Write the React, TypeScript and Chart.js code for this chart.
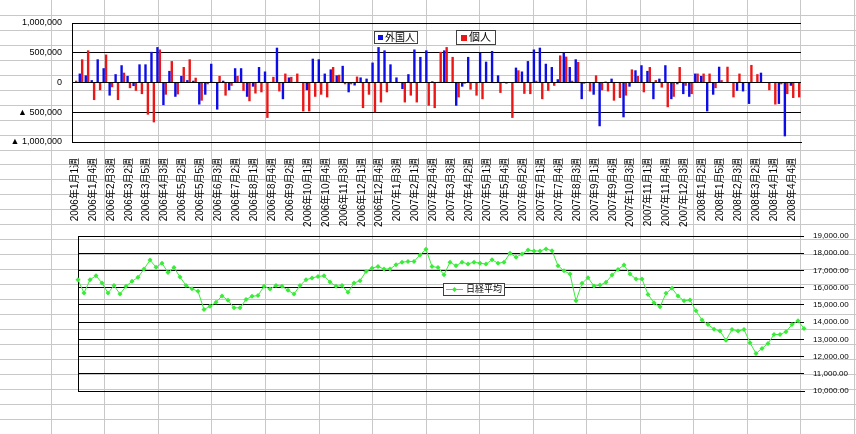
import React, { useEffect, useRef } from 'react';
import { Chart, registerables } from 'chart.js';

Chart.register(...registerables);

const FONT = "'Liberation Sans', 'Noto Sans CJK JP', sans-serif";
Chart.defaults.font.family = FONT;

// [year, month, number of weeks in that month]
const MONTH_WEEKS: [number, number, number][] = [
  [2006, 1, 4], [2006, 2, 4], [2006, 3, 5], [2006, 4, 4], [2006, 5, 5], [2006, 6, 4],
  [2006, 7, 4], [2006, 8, 5], [2006, 9, 4], [2006, 10, 4], [2006, 11, 5], [2006, 12, 4],
  [2007, 1, 5], [2007, 2, 4], [2007, 3, 4], [2007, 4, 4], [2007, 5, 5], [2007, 6, 4],
  [2007, 7, 4], [2007, 8, 5], [2007, 9, 4], [2007, 10, 5], [2007, 11, 4], [2007, 12, 4],
  [2008, 1, 5], [2008, 2, 4], [2008, 3, 4], [2008, 4, 4], [2008, 5, 1],
];
const WEEK_LABELS: string[] = [];
MONTH_WEEKS.forEach(([y, m, n]) => {
  for (let w = 1; w <= n; w++) WEEK_LABELS.push(`${y}年${m}月${w}週`);
});

// 外国人 (weekly net)
const FOREIGN = [
  0, 150000, 120000, 40000, 390000, 240000, -220000, 140000, 290000, 110000,
  -60000, 305000, 305000, 515000, 595000, -380000, 195000, -240000, 110000, 40000,
  30000, -370000, -205000, 315000, -455000, 30000, -130000, 240000, 240000, -240000,
  -70000, 260000, 185000, 10000, 585000, -280000, 85000, 10000, 0, -130000,
  400000, 390000, 150000, 220000, 120000, 280000, -165000, -50000, 85000, 65000,
  335000, 595000, 540000, 305000, 85000, -110000, 140000, 555000, 430000, 540000,
  20000, 10000, 540000, 0, -390000, -70000, 430000, 0, 500000, 350000,
  530000, 120000, 10000, 0, 250000, 185000, 360000, 555000, 585000, 315000,
  260000, 55000, 500000, 260000, 390000, -280000, 0, -205000, -735000, 15000,
  65000, 0, -585000, -70000, 205000, 290000, 195000, -280000, 65000, 290000,
  -280000, -30000, -195000, -240000, 150000, 110000, -485000, -205000, 265000, 0,
  0, -140000, -150000, -360000, 0, 165000, 0, 0, -360000, -905000,
  -55000, 0,
];

// 個人 (weekly net)
const INDIVIDUAL = [
  30000, 390000, 540000, -295000, -130000, 470000, -80000, -295000, 165000, -95000,
  -140000, -195000, -540000, -670000, 555000, -205000, 360000, -200000, 260000, 390000,
  80000, -305000, -30000, 10000, 110000, -220000, -55000, 110000, -140000, -315000,
  -185000, -165000, -595000, 95000, -150000, 150000, 95000, 150000, -485000, -485000,
  -240000, -205000, -250000, 260000, 130000, -30000, -30000, 100000, -430000, -205000,
  -500000, -335000, -165000, 10000, 10000, -335000, -220000, -335000, 0, -390000,
  -430000, 515000, 595000, 430000, -250000, -20000, -120000, -220000, -280000, 10000,
  -10000, -175000, -20000, -595000, 205000, -190000, -195000, 30000, -280000, -140000,
  -55000, 455000, 435000, 30000, 345000, -20000, -150000, 120000, -130000, -150000,
  -305000, -260000, -220000, 220000, 110000, -165000, 260000, 40000, -85000, -415000,
  -240000, 260000, -55000, -195000, 150000, 150000, 150000, -95000, 40000, 265000,
  -250000, 150000, 0, 295000, 140000, 0, -130000, -370000, -30000, -195000,
  -260000, -250000,
];

// 日経平均 (weekly close)
const NIKKEI = [
  16460, 15690, 16460, 16690, 16270, 15690, 16120, 15630, 16080, 16370,
  16600, 17080, 17600, 17190, 17420, 16880, 17170, 16620, 16130, 15940,
  15790, 14730, 14920, 15150, 15520, 15270, 14830, 14830, 15310, 15500,
  15540, 16080, 15920, 16130, 16080, 15850, 15630, 16120, 16460, 16560,
  16650, 16690, 16330, 16080, 16120, 15730, 16270, 16400, 16940, 17130,
  17230, 17080, 17080, 17330, 17480, 17520, 17520, 17900, 18230, 17230,
  17170, 16750, 17480, 17270, 17480, 17380, 17480, 17420, 17370, 17620,
  17420, 17480, 18000, 17770, 17960, 18190, 18130, 18130, 18250, 18150,
  17270, 16980, 16790, 15240, 16250, 16580, 16090, 16150, 16310, 16730,
  17060, 17310, 16790, 16500, 16500, 15610, 15120, 14890, 15670, 15960,
  15510, 15240, 15280, 14660, 14120, 13860, 13590, 13480, 12950, 13570,
  13480, 13570, 12800, 12180, 12470, 12760, 13280, 13280, 13440, 13860,
  14080, 13630,
];

const BAR_MIN = -1000000;
const BAR_MAX = 1000000;
const BAR_STEP = 500000;
const NK_MIN = 10000;
const NK_MAX = 19000;
const NK_STEP = 1000;

const W = 856;
const H = 434;
const TOP_H = 230;
const BLUE = '#0c0ce8';
const RED = '#ec1616';
const GREEN = '#38ec38';

function drawSheet(c: HTMLCanvasElement) {
  const ctx = c.getContext('2d');
  if (!ctx) return;
  ctx.clearRect(0, 0, W, H);
  ctx.fillStyle = '#ffffff';
  ctx.fillRect(0, 0, W, H);
  ctx.strokeStyle = '#c8c8c8';
  ctx.lineWidth = 1;
  ctx.beginPath();
  for (let k = 0; k < 17; k++) {
    const x = Math.round(50.8 + 53.55 * k) + 0.5;
    if (x < W) {
      ctx.moveTo(x, 0);
      ctx.lineTo(x, H);
    }
  }
  for (let k = 1; k < 30; k++) {
    const y = Math.round(14.95 * k) + 0.5;
    if (y < H) {
      ctx.moveTo(0, y);
      ctx.lineTo(W, y);
    }
  }
  ctx.stroke();
}

const barLegendPlugin = {
  id: 'barLegendBoxes',
  afterDraw(chart: any) {
    const ctx = chart.ctx;
    const ds = chart.data.datasets;
    ctx.save();
    ctx.lineWidth = 1;
    ctx.strokeStyle = '#404040';
    ctx.textAlign = 'left';
    ctx.textBaseline = 'middle';
    // 外国人
    ctx.fillStyle = '#ffffff';
    ctx.fillRect(374.5, 31.5, 43, 12);
    ctx.strokeRect(374.5, 31.5, 43, 12);
    ctx.fillStyle = ds[0].backgroundColor;
    ctx.fillRect(378, 35, 5, 5);
    ctx.fillStyle = '#000';
    ctx.font = `10px ${FONT}`;
    ctx.fillText(ds[0].label, 385, 38);
    // 個人
    ctx.fillStyle = '#ffffff';
    ctx.fillRect(456.5, 30.5, 39, 14);
    ctx.strokeRect(456.5, 30.5, 39, 14);
    ctx.fillStyle = ds[1].backgroundColor;
    ctx.fillRect(461, 35, 6, 6);
    ctx.fillStyle = '#000';
    ctx.font = `11px ${FONT}`;
    ctx.fillText(ds[1].label, 469, 38);
    ctx.restore();
  },
};

const lineLegendPlugin = {
  id: 'lineLegendBox',
  afterDraw(chart: any) {
    const ctx = chart.ctx;
    const ds = chart.data.datasets[0];
    ctx.save();
    ctx.lineWidth = 1;
    ctx.fillStyle = '#ffffff';
    ctx.fillRect(443.5, 283.5, 61, 12);
    ctx.strokeStyle = '#404040';
    ctx.strokeRect(443.5, 283.5, 61, 12);
    ctx.strokeStyle = ds.borderColor;
    ctx.beginPath();
    ctx.moveTo(446, 289.5);
    ctx.lineTo(463, 289.5);
    ctx.stroke();
    ctx.fillStyle = ds.borderColor;
    ctx.beginPath();
    ctx.moveTo(454.5, 287);
    ctx.lineTo(457, 289.5);
    ctx.lineTo(454.5, 292);
    ctx.lineTo(452, 289.5);
    ctx.closePath();
    ctx.fill();
    ctx.fillStyle = '#000';
    ctx.font = `9px ${FONT}`;
    ctx.textAlign = 'left';
    ctx.textBaseline = 'middle';
    ctx.fillText(ds.label, 466, 290);
    ctx.restore();
  },
};

const fmtBar = (v: any) => {
  const n = Number(v);
  if (n < 0) return '▲ ' + Math.abs(n).toLocaleString('en-US');
  return n.toLocaleString('en-US');
};
const fmtNk = (v: any) =>
  Number(v).toLocaleString('en-US', { minimumFractionDigits: 2, maximumFractionDigits: 2 });

export default function App() {
  const bgRef = useRef<HTMLCanvasElement>(null);
  const topRef = useRef<HTMLCanvasElement>(null);
  const botRef = useRef<HTMLCanvasElement>(null);

  useEffect(() => {
    if (bgRef.current) drawSheet(bgRef.current);

    const top = new Chart(topRef.current as HTMLCanvasElement, {
      type: 'bar',
      data: {
        labels: WEEK_LABELS,
        datasets: [
          { label: '外国人', data: FOREIGN, backgroundColor: BLUE, categoryPercentage: 0.8, barPercentage: 1.0 },
          { label: '個人', data: INDIVIDUAL, backgroundColor: RED, categoryPercentage: 0.8, barPercentage: 1.0 },
        ],
      },
      options: {
        responsive: false,
        animation: false,
        devicePixelRatio: 1,
        layout: { padding: { top: 23, right: 55, left: 0, bottom: 0 } },
        plugins: { legend: { display: false }, tooltip: { enabled: false } },
        scales: {
          x: {
            grid: { display: false },
            border: { display: true, color: '#000' },
            ticks: {
              autoSkip: false,
              minRotation: 90,
              maxRotation: 90,
              padding: 8,
              color: '#000',
              font: { size: 10 },
              callback: (_v: any, i: number) => (i % 3 === 0 ? WEEK_LABELS[i] : ''),
            },
            afterFit: (s: any) => {
              s.height = TOP_H - 142;
            },
          },
          y: {
            min: BAR_MIN,
            max: BAR_MAX,
            ticks: { stepSize: BAR_STEP, padding: 10, color: '#000', font: { size: 9 }, callback: fmtBar },
            grid: { color: '#000', drawTicks: false },
            border: { display: true, color: '#000' },
            afterFit: (s: any) => {
              s.width = 72;
            },
          },
        },
      } as any,
      plugins: [barLegendPlugin],
    });

    const bot = new Chart(botRef.current as HTMLCanvasElement, {
      type: 'line',
      data: {
        labels: WEEK_LABELS,
        datasets: [
          {
            label: '日経平均',
            data: NIKKEI,
            borderColor: GREEN,
            backgroundColor: GREEN,
            borderWidth: 1,
            pointStyle: 'rectRot',
            pointRadius: 2.5,
            pointBorderWidth: 0,
            tension: 0,
            yAxisID: 'y',
          },
        ],
      },
      options: {
        responsive: false,
        animation: false,
        devicePixelRatio: 1,
        layout: { padding: { top: 236, bottom: 43, left: 78, right: 0 } },
        plugins: { legend: { display: false }, tooltip: { enabled: false } },
        scales: {
          x: {
            offset: false,
            grid: { display: false },
            ticks: { display: false },
            border: { display: true, color: '#000' },
            afterFit: (s: any) => {
              s.height = 0;
            },
          },
          y: {
            position: 'right',
            min: NK_MIN,
            max: NK_MAX,
            ticks: { stepSize: NK_STEP, padding: 9, color: '#000', font: { size: 8 }, callback: fmtNk },
            grid: { color: '#000', drawTicks: false },
            border: { display: false },
            afterFit: (s: any) => {
              s.width = 52;
            },
          },
          yl: {
            position: 'left',
            min: NK_MIN,
            max: NK_MAX,
            ticks: { display: false },
            grid: { display: false },
            border: { display: true, color: '#000' },
            afterFit: (s: any) => {
              s.width = 0;
            },
          },
        },
      } as any,
      plugins: [lineLegendPlugin],
    });

    return () => {
      top.destroy();
      bot.destroy();
    };
  }, []);

  return (
    <div
      style={{
        position: 'fixed',
        left: 0,
        top: 0,
        width: W,
        height: H,
        background: '#fff',
        overflow: 'hidden',
      }}
    >
      <canvas ref={bgRef} width={W} height={H} style={{ position: 'absolute', left: 0, top: 0 }} />
      <canvas ref={botRef} width={W} height={H} style={{ position: 'absolute', left: 0, top: 0 }} />
      <canvas ref={topRef} width={W} height={TOP_H} style={{ position: 'absolute', left: 0, top: 0 }} />
    </div>
  );
}
